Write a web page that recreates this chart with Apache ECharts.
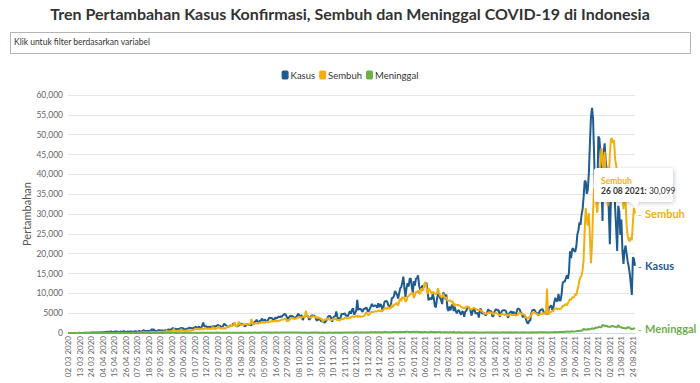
<!DOCTYPE html>
<html>
<head>
<meta charset="utf-8">
<script src="https://cdn.jsdelivr.net/npm/echarts@6/dist/echarts.min.js"></script>
<style>
html,body{margin:0;padding:0;background:#fff;}
#chart{width:700px;height:383px;}
</style>
</head>
<body>
<div id="chart"></div>
<script>
// ---- categories: daily dates 02 03 2020 .. 26 08 2021 (one day absent in the source, 17 07 2021)
const startDate = '2020-03-02';
const endDate = '2021-08-26';
const missingDates = ['2021-07-17'];
const dates = [];
(function () {
  let d = new Date(startDate + 'T00:00:00Z');
  const e = new Date(endDate + 'T00:00:00Z');
  while (d <= e) {
    const iso = d.toISOString().slice(0, 10);
    if (missingDates.indexOf(iso) < 0) {
      dates.push(iso.slice(8, 10) + ' ' + iso.slice(5, 7) + ' ' + iso.slice(0, 4));
    }
    d = new Date(d.getTime() + 86400000);
  }
})();

const seriesNames = ['Kasus', 'Sembuh', 'Meninggal'];

// ---- daily new confirmed cases (one line per month)
const kasus = [
2,0,0,0,2,0,2,13,8,7,0,35,27,21,17,38,55,82,60,81,64,65,107,104,103,153,109,130,129,114,
149,113,196,106,181,218,247,218,337,219,330,399,316,282,297,380,407,325,327,185,375,283,357,436,396,275,214,415,260,347,
433,292,349,395,484,367,338,336,533,387,233,484,689,568,490,529,489,496,486,693,973,634,949,526,479,415,686,687,678,557,700,
467,609,684,585,703,993,672,847,1043,1241,979,1111,1014,857,1017,1106,1031,1331,1041,1226,862,954,1051,1113,1178,1385,1240,1198,1082,1293,
1385,1624,1301,1447,1607,1209,1268,1853,2657,1611,1671,1681,1282,1591,1522,1574,1462,1752,1639,1693,1655,1882,2040,1761,1868,1492,1525,1748,2381,2087,1904,
1560,1519,1679,1922,1815,1882,2473,2277,1893,1687,1693,1942,2098,2307,2345,2081,1821,1673,1902,2266,2197,2037,2173,1877,2447,2306,2719,3003,3308,2858,2743,
3075,3075,3622,3269,3128,3444,2880,3046,3307,3861,3737,3806,3636,3141,3507,3963,3635,3891,4168,3989,4176,4071,4465,4634,4823,4494,3874,3509,4002,4284,
4174,4317,4007,3622,3999,4056,4538,4850,4094,4294,4497,3267,3906,4127,4411,4301,4301,3373,3602,4267,4432,4369,4369,4070,3222,3222,3520,3565,3143,2897,3143,
2696,2618,2973,3356,4065,4262,4262,3880,2853,3779,4173,4192,5444,4106,3535,3636,3807,4798,4792,4798,4998,4360,4442,4192,4917,5534,4881,5828,6267,4617,
5092,5533,8369,5803,6027,6089,5754,5292,6058,6033,6310,6388,5412,5489,6120,6725,7354,6689,6848,6982,6848,6347,7514,6540,7259,6982,5854,6528,7903,8002,8074,
7585,6753,6877,6753,8854,8854,9321,10617,10046,9640,8692,10047,11278,11557,12818,14224,11287,9086,11287,12568,11703,13632,13772,11788,9994,13094,11948,13695,13802,14518,12001,
10994,10990,11984,11434,11749,12156,12683,10827,8242,8700,8776,8435,9869,8844,6765,6462,8493,9687,9775,8844,8242,7300,10180,9775,8493,9687,6208,5560,
6680,5712,6808,7264,5529,6614,5528,4973,5633,5742,5144,4607,5414,5320,4071,5365,5585,6279,6585,6267,5656,4396,5379,6107,5753,4879,5008,5021,3901,5937,6071,
4889,4993,5034,4523,4597,5190,6035,5044,5656,5327,4127,4360,5402,5944,5904,5701,5710,4069,4952,5549,5720,5715,5719,5436,4497,3840,4963,5241,5444,4800,
5347,4952,4404,5297,6093,6130,5929,5130,4891,3922,4608,4385,3448,2633,2385,3080,3158,4859,5746,5796,5908,5296,4997,4993,4368,5565,5789,6004,5911,5090,5080,
4824,4993,4825,6486,6594,6994,5862,6294,7725,8892,8083,8048,9868,8189,8161,9944,12624,12990,12906,13737,14536,13668,15308,20574,18872,21095,21342,20694,20467,21807,
24836,25830,27913,27233,29745,31189,34379,38391,38124,35094,36197,40427,47899,54517,56757,54000,44721,34257,38325,33772,49509,49071,45416,38679,28228,45203,47791,43479,41168,37284,
30738,22404,33900,35867,35764,39532,31753,26415,20709,32081,30625,24709,28598,20813,17384,20741,22053,20004,18102,16744,14953,12408,9604,19106,18671,16899
];

// ---- daily recoveries (one line per month)
const sembuh = [
0,0,0,0,0,0,0,0,0,0,0,2,0,0,6,0,1,3,2,0,3,2,1,7,1,0,11,22,1,16,
22,12,13,9,16,5,16,11,18,39,40,29,34,21,59,27,19,38,69,31,37,33,57,15,48,21,20,54,20,37,
72,65,59,61,64,91,73,131,141,108,120,164,146,200,218,187,209,148,219,157,297,213,284,171,178,140,322,188,240,307,246,
357,254,386,488,465,428,314,519,486,481,1081,539,472,592,591,475,538,1000,590,541,547,501,628,537,552,682,649,664,731,759,
1044,1072,979,1086,1033,879,1089,1056,910,1076,1190,1172,954,1072,1182,998,1056,1615,1052,1049,998,1225,1290,1669,1102,1144,1307,1093,1194,1108,1271,
1574,1505,1715,2008,1734,1871,1949,2700,1708,1815,1841,2900,2193,1938,2176,1949,2085,2313,2143,2220,2281,2172,2276,3560,2234,2375,2301,2562,2403,2420,2465,
2611,2453,2815,2629,2700,2560,2800,2841,2663,2816,2836,3015,2906,3022,2961,3076,2960,3068,3054,3148,3224,3381,3424,3380,3616,3541,2883,3092,3216,3503,
3713,3816,3618,3657,3562,3705,3856,4025,4045,3873,3904,4122,4183,3868,5600,4389,4105,3948,3922,3862,4167,4138,4094,4153,3803,4007,3831,3880,3491,3620,2842,
3184,3424,3396,3409,3720,3462,3337,3264,3307,3485,3598,3556,3580,3159,3338,3127,3319,3629,3466,3582,3729,3860,3694,3628,3847,3898,3862,4214,4149,4048,
4111,4262,4330,3947,4402,4094,4101,4145,4279,4377,5107,5046,4621,4526,4837,5221,5325,5264,5348,5458,5464,5402,5599,5714,5462,5531,5458,5931,6224,6412,6012,
6448,6421,6036,6243,7083,6430,7127,7238,7325,7652,6843,8013,8659,8014,9135,8661,8929,7862,8160,9184,9260,9625,9832,10185,10043,8788,9541,10484,10171,10720,10074,
9874,11209,10652,10868,12342,12834,11520,9842,11149,10897,10451,9906,10346,10213,9932,9840,10034,11258,10134,9356,9104,9156,9893,9134,8761,9012,8193,8114,
8217,8176,7805,7996,6930,7345,6986,7126,6968,7108,6803,6570,6446,6304,6156,6414,6617,6732,6441,6133,6056,5962,6143,6347,6234,6047,5915,5804,5760,5857,5629,
5547,5232,4987,4818,4891,4941,5118,5237,5083,5157,4989,4712,4899,5113,4987,4805,4643,4413,4609,4902,4743,4622,4559,4691,4371,4386,4713,4601,4590,4512,
4537,4672,4395,4496,4511,5007,5038,4915,4731,4812,4583,4302,3912,3819,3649,3928,4112,4387,5209,5187,5203,5033,4793,4691,4512,4609,4817,4928,4786,5014,4947,
4813,11200,5021,4734,5211,5312,5568,5431,6054,6120,6280,5972,6132,6021,6087,6293,6875,6721,7101,7329,6989,7543,7953,8624,8284,9012,8920,9114,9851,9521,
10800,11900,13300,14100,14400,15900,18500,26000,31500,28400,27100,30200,24200,17600,22300,30900,36500,35100,33000,30300,34700,39900,42600,46600,44000,41200,45700,40600,36900,32000,
38600,45200,48800,49100,47900,48600,43900,42300,39900,41400,38300,37200,36600,35800,31200,34800,33400,27200,24400,23500,23100,24200,23400,28100,31500,30099
];

// ---- daily deaths (one line per month)
const meninggal = [
0,0,0,0,0,0,0,0,0,1,0,3,1,0,1,0,14,6,7,6,10,1,6,20,20,9,15,12,8,14,
21,13,11,21,7,11,31,19,40,26,26,7,26,25,26,34,25,47,12,45,31,11,13,25,27,5,25,22,19,16,
21,18,21,14,29,20,11,8,24,13,28,15,16,16,24,25,22,59,18,21,36,21,35,21,12,23,28,24,31,26,37,
24,35,49,28,32,39,13,19,40,40,62,29,43,28,28,42,33,44,33,34,28,35,37,38,28,58,50,51,57,51,
82,60,53,57,50,81,68,58,58,70,66,71,52,58,87,71,81,65,76,86,85,117,70,79,61,61,87,58,74,89,57,
62,50,66,64,90,73,66,65,67,44,59,79,69,79,98,70,66,85,78,79,82,104,77,70,87,87,118,105,92,82,73,
100,92,102,96,115,105,106,102,114,124,88,109,86,106,118,135,139,120,106,92,106,160,128,123,128,133,100,136,136,135,
116,117,106,97,108,110,112,110,116,105,85,79,104,107,85,85,85,85,86,100,104,101,101,95,95,95,89,96,71,86,96,
87,85,82,106,94,105,101,88,90,93,76,97,103,94,103,63,108,94,104,138,105,118,101,95,130,128,114,130,114,123,
116,167,167,127,124,118,176,111,115,155,156,160,135,115,171,181,171,165,164,221,218,131,178,172,177,123,197,192,252,224,170,
190,170,165,198,187,233,224,226,232,221,171,239,302,238,281,250,297,264,308,346,249,283,269,249,336,278,253,294,301,282,254,
251,162,243,205,262,247,220,196,165,202,304,268,264,199,234,183,223,284,222,264,196,156,202,164,196,180,176,145,
195,176,184,155,246,171,140,130,192,192,186,151,144,138,103,182,185,107,136,180,125,149,174,146,174,114,96,126,137,151,103,
125,128,144,115,125,159,160,122,149,134,181,103,159,143,168,141,147,109,123,157,176,166,122,149,160,136,176,144,164,142,
159,115,178,176,154,124,154,137,159,108,188,98,128,114,114,111,115,163,146,193,177,121,139,174,174,197,179,176,175,175,193,
177,150,173,153,154,200,193,187,189,264,211,212,244,240,239,281,267,287,256,356,298,355,294,304,410,409,356,348,406,467,
504,539,493,555,558,728,1040,852,871,826,1007,892,991,982,1205,1092,1093,1338,1280,1383,1449,1566,1415,1487,2069,1824,1893,1759,1808,1604,
1604,1568,1598,1747,1739,1588,1588,1475,1475,2048,1579,1466,1432,1270,1245,1227,1180,1128,1492,1348,1361,1030,1030,1038,1209,1030
];

const colors = ['#1f5b8e', '#f0b012', '#6cb04a'];
const FONT = 'Lato';

const chart = echarts.init(document.getElementById('chart'), null, { renderer: 'svg' });

function endLabel(name, color) {
  return {
    show: true,
    distance: 3,
    formatter: '{d|-} {n|' + name + '}',
    rich: {
      d: { color: color, fontSize: 10, fontFamily: FONT },
      n: { color: color, fontSize: 11, fontWeight: 'bold', fontFamily: FONT }
    }
  };
}

const lastIdx = dates.length - 1;
const tipDate = dates[lastIdx];
const tipVal = sembuh[lastIdx].toLocaleString('en-US');

const option = {
  animation: false,
  color: colors,
  title: {
    text: 'Tren Pertambahan Kasus Konfirmasi, Sembuh dan Meninggal COVID-19 di Indonesia',
    left: 'center',
    top: 0,
    textStyle: { fontFamily: FONT, fontSize: 16, fontWeight: 'bold', color: '#333' }
  },
  legend: {
    data: seriesNames,
    top: 65,
    left: 'center',
    icon: 'roundRect',
    itemWidth: 7,
    itemHeight: 9,
    itemGap: 4,
    textStyle: { fontFamily: FONT, fontSize: 9.5, color: '#333', padding: [0, 0, 0, -3] }
  },
  grid: { left: 68, right: 65, top: 95, bottom: 50 },
  xAxis: {
    type: 'category',
    data: dates,
    boundaryGap: false,
    axisLine: { show: true, lineStyle: { color: '#ccd6eb' } },
    axisTick: { show: false },
    axisLabel: {
      interval: 10,
      rotate: 90,
      fontSize: 8,
      fontFamily: FONT,
      color: '#666',
      margin: 3
    },
    splitLine: { show: false }
  },
  yAxis: {
    type: 'value',
    min: 0,
    max: 60000,
    interval: 5000,
    name: 'Pertambahan',
    nameLocation: 'middle',
    nameGap: 36,
    nameMoveOverlap: false,
    nameTextStyle: { fontFamily: FONT, fontSize: 11, color: '#555' },
    axisLine: { show: false },
    axisTick: { show: false },
    axisLabel: {
      fontSize: 8.5,
      fontFamily: FONT,
      color: '#666',
      margin: 5,
      formatter: function (v) { return v >= 10000 ? v.toLocaleString('en-US') : String(v); }
    },
    splitLine: { lineStyle: { color: '#e6e6e6' } }
  },
  series: [
    { name: seriesNames[0], type: 'line', data: kasus, showSymbol: false, lineStyle: { width: 2, color: colors[0] }, endLabel: endLabel('Kasus', colors[0]) },
    { name: seriesNames[1], type: 'line', data: sembuh, showSymbol: false, lineStyle: { width: 2, color: colors[1] }, endLabel: endLabel('Sembuh', colors[1]) },
    { name: seriesNames[2], type: 'line', data: meninggal, showSymbol: false, lineStyle: { width: 2, color: colors[2] }, endLabel: endLabel('Meninggal', colors[2]) }
  ],
  graphic: [
    {
      type: 'rect', left: 10, top: 32, z: 10,
      shape: { width: 680, height: 21 },
      style: { fill: '#fff', stroke: '#b4b4b4', lineWidth: 1 }
    },
    {
      type: 'text', left: 14, top: 37, z: 11,
      style: { text: 'Klik untuk filter berdasarkan variabel', fontFamily: FONT, fontSize: 8.5, fill: '#333333' }
    },
    {
      type: 'polygon', z: 20,
      shape: { points: [[628, 200], [640, 200], [636, 208]] },
      style: { fill: '#fff', shadowBlur: 3, shadowColor: 'rgba(0,0,0,0.2)' }
    },
    {
      type: 'rect', left: 594, top: 168, z: 20,
      shape: { width: 79, height: 34, r: 3 },
      style: { fill: '#fff', shadowBlur: 4, shadowColor: 'rgba(0,0,0,0.22)', shadowOffsetX: 1, shadowOffsetY: 1 }
    },
    {
      type: 'polygon', z: 21,
      shape: { points: [[628, 201], [640, 201], [636, 207]] },
      style: { fill: '#fff' }
    },
    {
      type: 'text', left: 601, top: 176, z: 22,
      style: { text: seriesNames[1], fontFamily: FONT, fontSize: 8.5, fontWeight: 'bold', fill: colors[1] }
    },
    {
      type: 'text', left: 601, top: 186.5, z: 22,
      style: {
        text: '{b|' + tipDate + ':} ' + tipVal,
        fontFamily: FONT, fontSize: 8.5, fill: '#333',
        rich: { b: { fontWeight: 'bold', fontFamily: FONT, fontSize: 8.5, fill: '#333' } }
      }
    }
  ]
};
chart.setOption(option);
</script>
</body>
</html>
